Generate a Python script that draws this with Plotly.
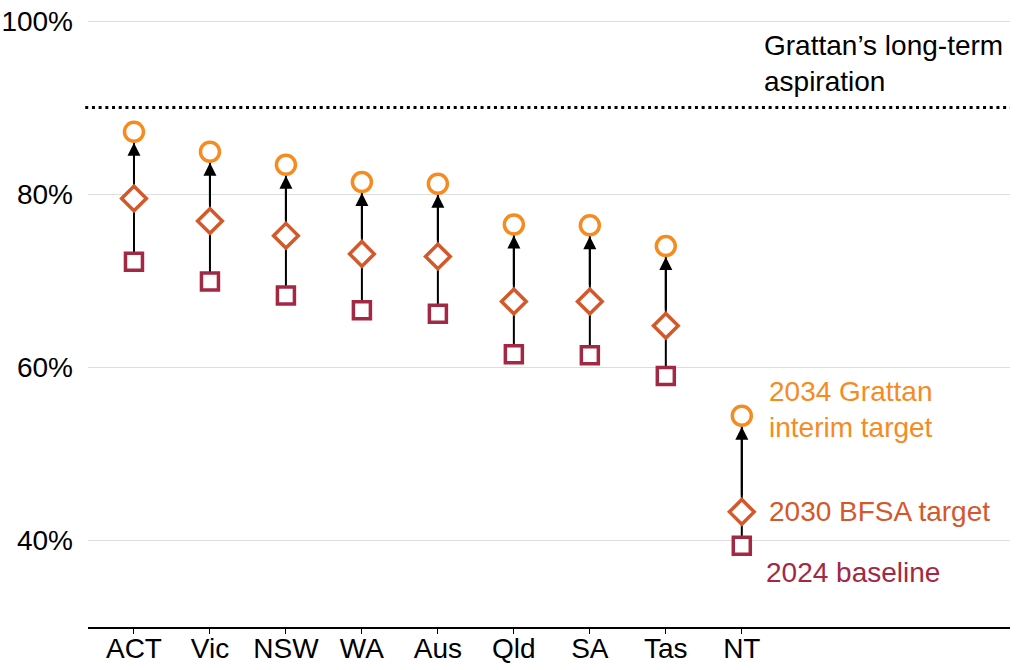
import plotly.graph_objects as go

categories = ["ACT", "Vic", "NSW", "WA", "Aus", "Qld", "SA", "Tas", "NT"]
baseline_2024 = [72.2, 69.9, 68.3, 66.6, 66.2, 61.5, 61.4, 59.0, 39.4]
bfsa_2030 = [79.5, 76.9, 75.2, 73.1, 72.8, 67.6, 67.6, 64.8, 43.3]
grattan_2034 = [87.2, 84.9, 83.4, 81.4, 81.2, 76.5, 76.4, 74.0, 54.4]
aspiration = 90
y_ticks = [40, 60, 80, 100]
y_tick_labels = ["40%", "60%", "80%", "100%"]

C_CIRCLE = "#F68B1F"
C_DIAMOND = "#D4582A"
C_SQUARE = "#A32844"
FONT = "Liberation Sans, Arial, sans-serif"

xs = list(range(len(categories)))

fig = go.Figure()

# connecting lines (under markers)
lx, ly = [], []
for i in xs:
    lx += [i, i, None]
    ly += [baseline_2024[i], grattan_2034[i], None]
fig.add_trace(go.Scatter(x=lx, y=ly, mode="lines",
                         line=dict(color="black", width=2),
                         hoverinfo="skip", showlegend=False))

fig.add_trace(go.Scatter(x=xs, y=baseline_2024, mode="markers",
                         marker=dict(symbol="square", size=17, color="white",
                                     line=dict(color=C_SQUARE, width=3.5)),
                         name="2024 baseline", showlegend=False))
fig.add_trace(go.Scatter(x=xs, y=bfsa_2030, mode="markers",
                         marker=dict(symbol="diamond", size=19, color="white",
                                     line=dict(color=C_DIAMOND, width=3.5)),
                         name="2030 BFSA target", showlegend=False))
fig.add_trace(go.Scatter(x=xs, y=grattan_2034, mode="markers",
                         marker=dict(symbol="circle", size=19, color="white",
                                     line=dict(color=C_CIRCLE, width=3.5)),
                         name="2034 Grattan interim target", showlegend=False))

# arrowheads
for i in xs:
    fig.add_annotation(x=i, y=grattan_2034[i], ax=i, ay=bfsa_2030[i],
                       xref="x", yref="y", axref="x", ayref="y",
                       text="", showarrow=True, arrowhead=2, arrowsize=1.3,
                       arrowwidth=2, arrowcolor="black",
                       standoff=11, startstandoff=15)

# aspiration line
fig.add_shape(type="line", xref="paper", yref="y", x0=-0.003, x1=1, y0=aspiration, y1=aspiration,
              line=dict(color="black", width=3, dash="3px,3.7px"))

last = len(categories) - 1
fig.add_annotation(x=last, y=aspiration, xref="x", yref="y", xanchor="left", yanchor="bottom",
                   xshift=20, yshift=9, align="left", showarrow=False,
                   text="Grattan’s long-term<br>aspiration",
                   font=dict(family=FONT, size=28, color="black"))
fig.add_annotation(x=last, y=grattan_2034[last], xref="x", yref="y", xanchor="left", yanchor="middle",
                   xshift=25, yshift=6, align="left", showarrow=False,
                   text="2034 Grattan<br>interim target",
                   font=dict(family=FONT, size=28, color=C_CIRCLE))
fig.add_annotation(x=last, y=bfsa_2030[last], xref="x", yref="y", xanchor="left", yanchor="middle",
                   xshift=25, yshift=0, align="left", showarrow=False,
                   text="2030 BFSA target",
                   font=dict(family=FONT, size=28, color=C_DIAMOND))
fig.add_annotation(x=last, y=baseline_2024[last], xref="x", yref="y", xanchor="left", yanchor="middle",
                   xshift=22, yshift=-27, align="left", showarrow=False,
                   text="2024 baseline",
                   font=dict(family=FONT, size=28, color=C_SQUARE))

fig.update_layout(
    width=1024, height=670,
    margin=dict(l=88, r=14, t=20, b=43),
    plot_bgcolor="white", paper_bgcolor="white",
    font=dict(family=FONT, size=28, color="black"),
    showlegend=False,
    xaxis=dict(range=[-0.605, 11.53], tickvals=xs, ticktext=categories,
               showgrid=False, zeroline=False, showline=True, linecolor="black",
               linewidth=2, ticks="outside", ticklen=5, tickwidth=1, tickcolor="black",
               tickfont=dict(size=28, color="black"), automargin=False,
               ticklabelstandoff=-10),
    yaxis=dict(range=[30, 100.12], tickvals=y_ticks, ticktext=y_tick_labels,
               showgrid=True, gridcolor="#DDDDDD", gridwidth=1, zeroline=False,
               showline=False, ticks="", tickfont=dict(size=28, color="black"),
               automargin=False, ticklabelstandoff=14, ticklabeloverflow="allow"),
)

fig.write_html("out.html", config={"displayModeBar": False},
               post_script="document.body.style.margin='0';")
